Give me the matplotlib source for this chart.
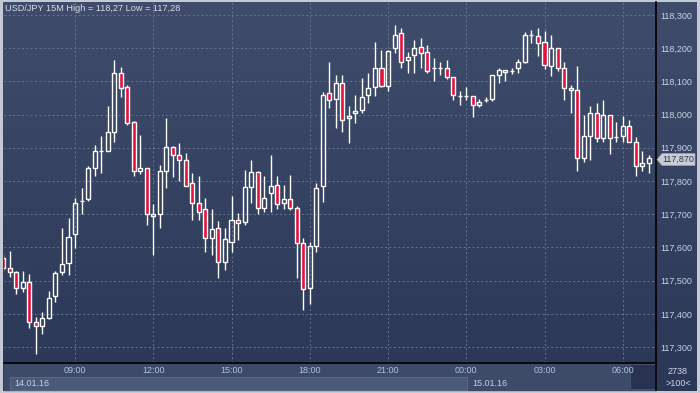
import numpy as np
import matplotlib
matplotlib.use('Agg')
import matplotlib.pyplot as plt
from matplotlib.colors import LinearSegmentedColormap
from matplotlib.patches import Rectangle, Polygon
from matplotlib.lines import Line2D

# USD/JPY 15M bars, 14.01.16 06:15 .. 15.01.16 07:00 (100 bars)
opens = [117.568, 117.538, 117.527, 117.477, 117.497, 117.374, 117.362, 117.388, 117.453, 117.527,
         117.552, 117.640, 117.739, 117.745, 117.838, 117.890, 117.891, 117.949, 118.124, 118.084,
         117.979, 117.831, 117.838, 117.694, 117.700, 117.831, 117.903, 117.878, 117.862, 117.793,
         117.733, 117.715, 117.627, 117.658, 117.557, 117.617, 117.684, 117.677, 117.783, 117.828,
         117.718, 117.763, 117.788, 117.733, 117.745, 117.718, 117.612, 117.477, 117.605, 117.785,
         118.064, 118.048, 118.094, 117.989, 118.004, 118.013, 118.059, 118.084, 118.139, 118.087,
         118.200, 118.245, 118.164, 118.179, 118.203, 118.188, 118.141, 118.141, 118.141, 118.112,
         118.057, 118.057, 118.057, 118.029, 118.044, 118.047, 118.119, 118.134, 118.132, 118.139,
         118.157, 118.240, 118.238, 118.218, 118.147, 118.200, 118.141, 118.079, 118.074, 117.868,
         117.936, 118.004, 117.929, 118.000, 117.931, 117.936, 117.967, 117.918, 117.845, 117.853]
highs = [117.580, 117.589, 117.530, 117.529, 117.520, 117.390, 117.406, 117.469, 117.529, 117.659,
         117.688, 117.748, 117.778, 117.845, 117.908, 117.936, 118.027, 118.164, 118.142, 118.088,
         117.980, 117.939, 117.840, 117.730, 117.848, 117.991, 117.905, 117.914, 117.883, 117.823,
         117.815, 117.748, 117.716, 117.679, 117.658, 117.755, 117.703, 117.833, 117.863, 117.830,
         117.815, 117.878, 117.815, 117.788, 117.818, 117.725, 117.627, 117.615, 117.793, 118.069,
         118.158, 118.118, 118.118, 118.026, 118.058, 118.109, 118.126, 118.220, 118.195, 118.195,
         118.270, 118.262, 118.188, 118.225, 118.230, 118.210, 118.170, 118.158, 118.164, 118.112,
         118.072, 118.084, 118.057, 118.047, 118.054, 118.119, 118.141, 118.134, 118.141, 118.167,
         118.248, 118.255, 118.260, 118.252, 118.240, 118.200, 118.158, 118.089, 118.145, 118.000,
         118.026, 118.034, 118.044, 118.000, 117.979, 117.997, 117.984, 117.931, 117.891, 117.878]
lows = [117.530, 117.511, 117.460, 117.467, 117.358, 117.280, 117.338, 117.384, 117.437, 117.517,
        117.517, 117.597, 117.700, 117.740, 117.816, 117.823, 117.890, 117.918, 118.054, 117.970,
        117.816, 117.822, 117.667, 117.577, 117.658, 117.778, 117.813, 117.800, 117.785, 117.683,
        117.683, 117.587, 117.577, 117.507, 117.532, 117.587, 117.622, 117.667, 117.733, 117.700,
        117.708, 117.708, 117.715, 117.715, 117.713, 117.507, 117.411, 117.429, 117.587, 117.738,
        118.019, 117.959, 117.949, 117.914, 117.974, 118.004, 118.034, 118.056, 118.084, 118.072,
        118.186, 118.141, 118.124, 118.124, 118.141, 118.124, 118.100, 118.119, 118.107, 118.044,
        118.029, 118.044, 117.994, 118.024, 118.039, 118.041, 118.094, 118.102, 118.122, 118.126,
        118.154, 118.215, 118.177, 118.137, 118.117, 118.132, 118.044, 118.004, 117.831, 117.858,
        117.863, 117.918, 117.918, 117.881, 117.918, 117.918, 117.918, 117.815, 117.831, 117.823]
closes = [117.538, 117.526, 117.477, 117.497, 117.374, 117.362, 117.388, 117.447, 117.522, 117.549,
          117.632, 117.733, 117.740, 117.838, 117.891, 117.891, 117.949, 118.124, 118.079, 117.974,
          117.831, 117.838, 117.701, 117.700, 117.831, 117.903, 117.878, 117.862, 117.786, 117.733,
          117.708, 117.627, 117.655, 117.557, 117.624, 117.684, 117.673, 117.783, 117.828, 117.718,
          117.748, 117.785, 117.730, 117.745, 117.718, 117.612, 117.474, 117.605, 117.778, 118.059,
          118.044, 118.094, 117.983, 117.997, 118.011, 118.054, 118.079, 118.139, 118.087, 118.192,
          118.240, 118.157, 118.173, 118.200, 118.185, 118.132, 118.141, 118.141, 118.112, 118.059,
          118.057, 118.057, 118.029, 118.039, 118.044, 118.119, 118.134, 118.127, 118.132, 118.157,
          118.240, 118.240, 118.215, 118.149, 118.200, 118.139, 118.079, 118.074, 117.868, 117.936,
          118.004, 117.929, 118.000, 117.929, 117.931, 117.967, 117.918, 117.845, 117.853, 117.870]

time_ticks = [11, 23, 35, 47, 59, 71, 83, 95]
time_labels = ['09:00', '12:00', '15:00', '18:00', '21:00', '00:00', '03:00', '06:00']
price_ticks = [117.3, 117.4, 117.5, 117.6, 117.7, 117.8, 117.9, 118.0, 118.1, 118.2, 118.3]
last_price = '117,870'

plt.rcParams['font.family'] = ['Liberation Sans', 'DejaVu Sans']

W, H = 700, 393
fig = plt.figure(figsize=(7, 3.93), dpi=100)
fig.patch.set_facecolor('#c3cad6')


def fx(px):
    return px / W


def fy(py):
    return 1 - py / H


# gradient background for the whole terminal window
bg = fig.add_axes([fx(3), fy(391), (697 - 3) / W, (391 - 2) / H])
bg.set_zorder(-2)
grad = np.linspace(0, 1, 256)[:, None]
cmap = LinearSegmentedColormap.from_list('bg', ['#3f4c6b', '#2a3756'])
bg.imshow(grad, aspect='auto', cmap=cmap, extent=[0, 1, 0, 1])
bg.axis('off')

# time / date strip under the chart
fig.add_artist(Rectangle((fx(4), fy(390)), 652 / W, (390 - 364) / H,
                         color='#3d4a68', transform=fig.transFigure, zorder=1))
fig.add_artist(Rectangle((fx(10), fy(390)), (467 - 10) / W, (390 - 377) / H,
                         facecolor='#4b5a78', edgecolor='#5d6c89', lw=0.6,
                         transform=fig.transFigure, zorder=1))
fig.add_artist(Rectangle((fx(630), fy(389)), 25 / W, 25 / H,
                         facecolor='#27334f', edgecolor='#4a5774', lw=0.6,
                         transform=fig.transFigure, zorder=1))

ax = fig.add_axes([fx(4), fy(363), (656 - 4) / W, (363 - 2) / H])
ax.set_zorder(3)
ax.patch.set_alpha(0)

o = np.array(opens)
h = np.array(highs)
l = np.array(lows)
c = np.array(closes)
x = np.arange(len(o))
up = c >= o
top = np.maximum(o, c)
bot = np.minimum(o, c)

ax.vlines(x, top, h, color='white', lw=1, zorder=3)
ax.vlines(x, l, bot, color='white', lw=1, zorder=3)
ax.bar(x[up], (top - bot)[up], bottom=bot[up], width=0.62,
       facecolor='none', edgecolor='white', lw=1, zorder=4)
ax.bar(x[~up], (top - bot)[~up], bottom=bot[~up], width=0.62,
       facecolor='#e0123f', edgecolor='white', lw=1, zorder=4)

ax.set_xlim(0.107, 100.1)
ax.set_ylim(117.252, 118.339)

ax.set_xticks(time_ticks)
ax.set_xticklabels(time_labels)
ax.set_yticks(price_ticks)
ax.set_yticklabels([f'{v:.3f}'.replace('.', ',') for v in price_ticks])
ax.yaxis.tick_right()
ax.tick_params(axis='y', length=0, pad=3, labelsize=6.5, labelcolor='#c9d3e6')
ax.tick_params(axis='x', length=0, pad=2.5, labelsize=6.5, labelcolor='#a9c3e6')
ax.grid(color='#66748f', ls=(0, (2, 2.5)), lw=0.7)
ax.set_axisbelow(True)

for s in ['left', 'top']:
    ax.spines[s].set_visible(False)
ax.spines['bottom'].set_color('black')
ax.spines['bottom'].set_linewidth(1.2)
ax.spines['right'].set_visible(False)
fig.add_artist(Line2D([fx(656), fx(656)], [fy(2), fy(390)], color='black', lw=1.2,
                      transform=fig.transFigure, zorder=5))

fig.text(fx(5), fy(8.5), 'USD/JPY 15M High = 118,27 Low = 117,28', ha='left', va='center',
         color='#d8dde8', fontsize=6.6)
fig.text(fx(14), fy(383.5), '14.01.16', ha='left', va='center', color='#c8d0e0', fontsize=6.5, zorder=6)
fig.text(fx(472), fy(383.5), '15.01.16', ha='left', va='center', color='#c8d0e0', fontsize=6.5, zorder=6)
fig.text(fx(678), fy(371), '2738', ha='center', va='center', color='#d0d8e8', fontsize=6.5)
fig.text(fx(678), fy(384), '>100<', ha='center', va='center', color='#d0d8e8', fontsize=6.5)

# last price tag
tag_y = 159.5
tag = Polygon([(fx(657), fy(tag_y)), (fx(662), fy(tag_y - 6)), (fx(695), fy(tag_y - 6)),
               (fx(695), fy(tag_y + 6)), (fx(662), fy(tag_y + 6))],
              closed=True, facecolor='#c9cdd5', edgecolor='#9aa2b0', lw=0.5,
              transform=fig.transFigure, zorder=6)
fig.add_artist(tag)
fig.text(fx(678.5), fy(tag_y), last_price, ha='center', va='center', color='#2c3446',
         fontsize=6.5, zorder=7)

fig.savefig('out.png', dpi=100, facecolor=fig.get_facecolor())
